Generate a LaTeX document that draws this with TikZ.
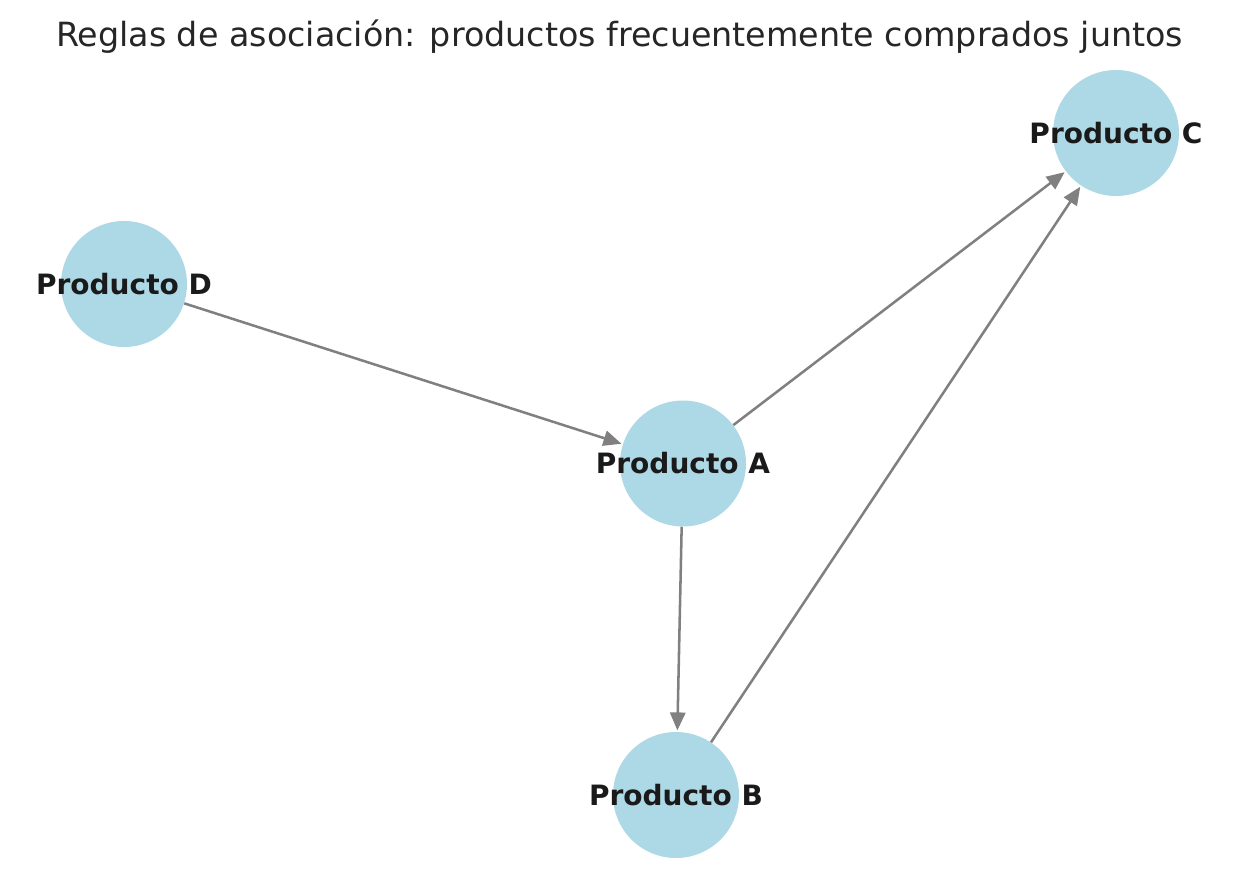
\documentclass[tikz,border=0pt]{standalone}
\usepackage{fontspec}
\setmainfont{DejaVu Sans}
\usetikzlibrary{arrows.meta}
\definecolor{nodeblue}{HTML}{ADD8E6}
\definecolor{edgegray}{HTML}{808080}
\definecolor{labelblack}{HTML}{1A1A1A}
\definecolor{titleblack}{HTML}{262626}
\tikzset{prod/.style={circle, fill=nodeblue, minimum size=94.5pt, inner sep=0pt, text=labelblack, font=\fontsize{21}{24}\selectfont\bfseries},
         rule/.style={edgegray, line width=1.9pt, -{Triangle[length=13.5pt,width=11.5pt]}, shorten >=1pt}}

\begin{document}
\begin{tikzpicture}[x=0.75pt,y=-0.75pt]
   \useasboundingbox (0,0) rectangle (1239,884);
   \node[prod] (a) at ( 683, 463.5) {};
   \node[prod] (b) at ( 676, 795) {};
   \node[prod] (c) at (1116, 133) {};
   \node[prod] (d) at ( 124, 284) {};
   \draw[rule] (d) -- (a);
   \draw[rule] (a) -- (c);
   \draw[rule] (a) -- (b);
   \draw[rule] (b) -- (c);
   \node[prod, fill=none] at (a) {Producto A};
   \node[prod, fill=none] at (b) {Producto B};
   \node[prod, fill=none] at (c) {Producto C};
   \node[prod, fill=none] at (d) {Producto D};
   \node[text=titleblack, font=\fontsize{25}{30}\selectfont] (title) at (619.5,37) {Reglas de asociación: productos frecuentemente comprados juntos};
\end{tikzpicture}
\end{document}
